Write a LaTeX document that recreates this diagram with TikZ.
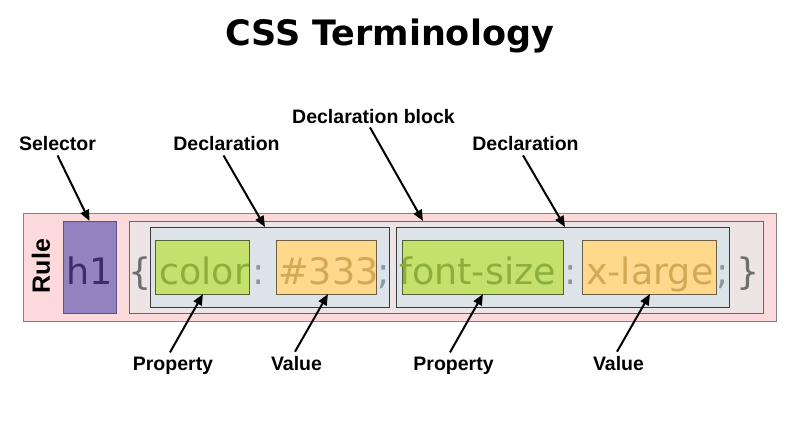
\documentclass[tikz,border=0pt]{standalone}
\usepackage{fontspec}
\usetikzlibrary{arrows.meta}
\newfontfamily\codefont{DejaVu Sans}
\newfontfamily\lblfont{Liberation Sans}
\newfontfamily\ttlfont{DejaVu Sans}
\definecolor{rulefill}{HTML}{FCDADB}
\definecolor{ruledraw}{HTML}{8C7F80}
\definecolor{selfill}{HTML}{9282C0}
\definecolor{seldraw}{HTML}{5E4E86}
\definecolor{seltext}{HTML}{3C2C6C}
\definecolor{blockfill}{HTML}{EDE4E6}
\definecolor{blockdraw}{HTML}{6E6466}
\definecolor{declfill}{HTML}{DDE4E9}
\definecolor{decldraw}{HTML}{3A3A3A}
\definecolor{propfill}{HTML}{C3E16B}
\definecolor{propdraw}{HTML}{4F6336}
\definecolor{proptext}{HTML}{8BAE3D}
\definecolor{valfill}{HTML}{FED98C}
\definecolor{valdraw}{HTML}{6B5E45}
\definecolor{valtext}{HTML}{D3A956}
\definecolor{punct}{HTML}{8A98A5}
\definecolor{brace}{HTML}{6E6E6E}
\tikzset{
  box/.style={draw, line width=1pt, inner sep=0pt, outer sep=0pt},
  code/.style={inner sep=0pt, anchor=base, font=\codefont\fontsize{36.5}{42}\selectfont},
  lbl/.style={inner sep=0pt, anchor=base, font=\lblfont\bfseries\fontsize{19.5}{22}\selectfont},
  pointer/.style={line width=2pt, -{Triangle[length=11pt,width=9pt]}}
}
\begin{document}
\begin{tikzpicture}[x=1pt,y=-1pt]
\useasboundingbox (0,0) rectangle (786,421);
% title
\node[inner sep=0pt, anchor=base, font=\ttlfont\bfseries\fontsize{35}{40}\selectfont] (title) at (389.5,45) {CSS Terminology};
% boxes
\node[box, fill=rulefill, draw=ruledraw, minimum width=753pt, minimum height=108pt] (rule) at (399.5,267) {};
\node[box, fill=selfill, draw=seldraw, minimum width=53pt, minimum height=92pt] (sel) at (89.5,267) {};
\node[box, fill=blockfill, draw=blockdraw, minimum width=634pt, minimum height=92pt] (block) at (446,267) {};
\node[box, fill=declfill, draw=decldraw, minimum width=239pt, minimum height=80pt] (decl1) at (269.5,267) {};
\node[box, fill=declfill, draw=decldraw, minimum width=333pt, minimum height=80pt] (decl2) at (562.5,267) {};
\node[box, fill=propfill, draw=propdraw, minimum width=94pt, minimum height=54pt] (prop1) at (202,267) {};
\node[box, fill=valfill, draw=valdraw, minimum width=100pt, minimum height=54pt] (val1) at (326,267) {};
\node[box, fill=propfill, draw=propdraw, minimum width=161pt, minimum height=54pt] (prop2) at (482.5,267) {};
\node[box, fill=valfill, draw=valdraw, minimum width=134pt, minimum height=54pt] (val2) at (649,267) {};
% rule label
\node[inner sep=0pt, rotate=90, font=\lblfont\bfseries\fontsize{25}{28}\selectfont] (rulelbl) at (41,266) {Rule};
% code text
\node[code, text=seltext] (th1) at (90,284) {h1};
\node[code, text=brace] (tob) at (140,284) {\{};
\node[code, text=proptext, anchor=base west] (tcolor) at (159,284) {color};
\node[code, text=punct] (tc1) at (259,284) {:};
\node[code, text=valtext, anchor=base west] (t333) at (278,284) {\#333};
\node[code, text=punct] (ts1) at (384,284) {;};
\node[code, text=proptext, anchor=base west] (tfs) at (399,284) {font-size};
\node[code, text=punct] (tc2) at (571,284) {:};
\node[code, text=valtext, anchor=base west] (txl) at (586,284) {x-large};
\node[code, text=punct] (ts2) at (723,284) {;};
\node[code, text=brace] (tcb) at (748,284) {\}};
% labels
\node[lbl] (lsel) at (57.5,150) {Selector};
\node[lbl] (ldecl1) at (226.5,150) {Declaration};
\node[lbl] (lblock) at (373.5,123) {Declaration block};
\node[lbl] (ldecl2) at (525.5,150) {Declaration};
\node[lbl] (lprop1) at (173,370) {Property};
\node[lbl] (lval1) at (296.5,370) {Value};
\node[lbl] (lprop2) at (453.5,370) {Property};
\node[lbl] (lval2) at (618.5,370) {Value};
% arrows
\draw[pointer] ([yshift=-5pt]lsel.south) -- (sel.north);
\draw[pointer] ([xshift=-3pt,yshift=-5pt]ldecl1.south) -- ([xshift=-4.5pt]decl1.north);
\draw[pointer] ([xshift=-3.5pt,yshift=-4pt]lblock.south) -- ([xshift=-23pt]block.north);
\draw[pointer] ([xshift=-2.5pt,yshift=-5pt]ldecl2.south) -- ([xshift=2.5pt]decl2.north);
\draw[pointer] ([xshift=-3pt,yshift=4pt]lprop1.north) -- ([xshift=1pt]prop1.south);
\draw[pointer] ([xshift=-1.5pt,yshift=4pt]lval1.north) -- ([xshift=2pt]val1.south);
\draw[pointer] ([xshift=-3.5pt,yshift=4pt]lprop2.north) -- ([xshift=0.5pt]prop2.south);
\draw[pointer] ([xshift=-1.5pt,yshift=4pt]lval2.north) -- ([xshift=1pt]val2.south);
\end{tikzpicture}
\end{document}
